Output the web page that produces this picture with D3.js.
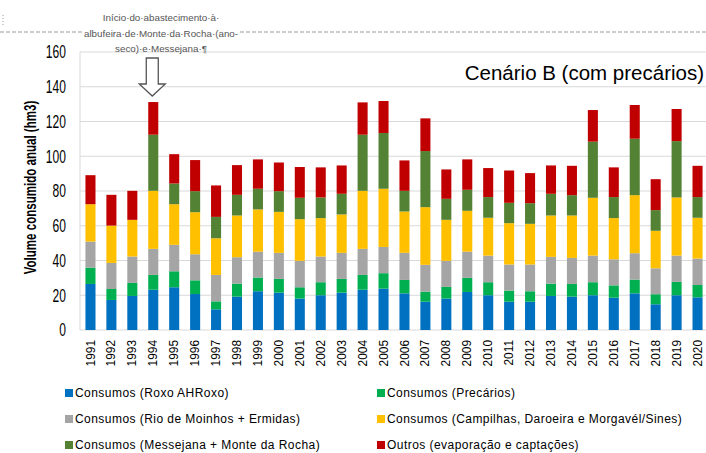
<!DOCTYPE html>
<html>
<head>
<meta charset="utf-8">
<script src="https://cdn.jsdelivr.net/npm/d3@7"></script>
<style>
  body { margin: 0; background: #fff; }
  svg { display: block; font-family: "Liberation Sans", Arial, sans-serif; }
</style>
</head>
<body>
<svg id="chart"></svg>
<script>
var width = 706;
var height = 453;

// anos (categorias)
var years = ['1991','1992','1993','1994','1995','1996','1997','1998','1999','2000',
             '2001','2002','2003','2004','2005','2006','2007','2008','2009','2010',
             '2011','2012','2013','2014','2015','2016','2017','2018','2019','2020'];

// volumes por origem (hm3)
var roxo       = [26.5,17.3,19.6,23.2,24.6,20.7,11.9,19.2,22.3,21.5,18.1,20.0,21.5,23.2,23.8,21.1,16.3,18.1,21.9,20.0,16.3,16.3,19.6,19.2,20.0,18.6,21.1,14.8,20.0,18.8];
var precarios  = [9.4,6.3,7.5,8.5,9.2,7.9,4.6,7.5,7.9,7.9,6.5,7.5,7.9,8.5,8.9,7.7,5.8,6.7,8.1,7.5,6.4,6.0,7.1,7.3,7.5,7.1,7.9,5.8,7.7,7.1];
var rioMoinhos = [15.0,15.0,15.2,15.0,15.2,15.0,15.2,15.2,14.9,15.0,15.2,14.8,15.0,15.0,15.1,15.6,15.4,15.0,15.1,15.3,15.0,15.4,15.4,15.0,15.3,15.0,15.2,14.9,15.1,15.2];
var campilhas  = [21.5,21.5,21.1,33.4,23.4,24.2,21.1,24.0,24.3,23.6,24.0,22.1,22.1,33.4,33.5,23.8,33.2,23.6,23.5,21.8,23.8,23.4,23.8,24.4,33.3,23.7,33.4,21.6,33.5,23.5];
var messejana  = [0,0,0,32.3,11.9,12.1,12.3,11.9,11.9,11.9,12.3,11.9,11.9,32.3,32.1,11.9,32.3,12.1,12.1,11.9,11.7,11.9,12.5,11.7,32.3,12.1,32.5,11.9,32.4,11.9];
var outros     = [16.7,17.7,16.7,18.8,16.9,17.9,18.1,17.1,16.9,16.5,17.7,17.3,16.3,18.6,18.4,17.5,18.8,16.9,17.5,16.7,18.6,17.3,16.3,16.9,18.2,17.1,19.4,17.8,18.5,18.0];

var seriesKeys = ['roxo','precarios','rioMoinhos','campilhas','messejana','outros'];
var seriesNames = ['Consumos (Roxo AHRoxo)', 'Consumos (Precários)',
                   'Consumos (Rio de Moinhos + Ermidas)', 'Consumos (Campilhas, Daroeira e Morgavél/Sines)',
                   'Consumos (Messejana + Monte da Rocha)', 'Outros (evaporação e captações)'];
var colors = ['#0070C0','#00B050','#A5A5A5','#FFC000','#548235','#C00000'];
var yTicks = [0,20,40,60,80,100,120,140,160];

var table = years.map(function(y, i) {
  return { year: y, roxo: roxo[i], precarios: precarios[i], rioMoinhos: rioMoinhos[i],
           campilhas: campilhas[i], messejana: messejana[i], outros: outros[i] };
});

var svg = d3.select('#chart').attr('width', width).attr('height', height);

var x = d3.scaleBand().domain(years).range([80, 708]).paddingInner(0.52).paddingOuter(0.26);
var y = d3.scaleLinear().domain([0, 160]).range([330, 52]);
var color = d3.scaleOrdinal().domain(seriesKeys).range(colors);

// linha tracejada do topo (margem da pagina)
svg.append('line')
  .attr('x1', 0).attr('x2', width).attr('y1', 32).attr('y2', 32)
  .attr('stroke', '#bdbdbd').attr('stroke-width', 1.3).attr('stroke-dasharray', '4,2');
svg.append('line')
  .attr('x1', 3).attr('x2', 3).attr('y1', 15).attr('y2', 26)
  .attr('stroke', '#999').attr('stroke-width', 1).attr('stroke-dasharray', '1,2');

// grelha
svg.append('g')
  .selectAll('line')
  .data(yTicks.filter(function(d) { return d > 0; }))
  .enter()
  .append('line')
  .attr('x1', 80).attr('x2', width)
  .attr('y1', function(d) { return y(d); })
  .attr('y2', function(d) { return y(d); })
  .attr('stroke', '#d9d9d9').attr('stroke-width', 1);

svg.append('line')
  .attr('x1', 80).attr('x2', 80).attr('y1', y(160)).attr('y2', y(0))
  .attr('stroke', '#d9d9d9');
svg.append('line')
  .attr('x1', 80).attr('x2', width).attr('y1', y(0)).attr('y2', y(0))
  .attr('stroke', '#d9d9d9');

// barras empilhadas
var stacked = d3.stack().keys(seriesKeys)(table);

svg.append('g')
  .selectAll('g')
  .data(stacked)
  .enter()
  .append('g')
  .attr('fill', function(d) { return color(d.key); })
  .selectAll('rect')
  .data(function(d) { return d; })
  .enter()
  .append('rect')
  .attr('x', function(d) { return x(d.data.year); })
  .attr('y', function(d) { return y(d[1]); })
  .attr('width', x.bandwidth())
  .attr('height', function(d) { return y(d[0]) - y(d[1]); });

// eixo y (letra estreita)
var yAxis = svg.append('g')
  .attr('transform', 'translate(80,0)')
  .call(d3.axisLeft(y).tickValues(yTicks).tickSize(0).tickPadding(21));
yAxis.select('.domain').remove();
yAxis.selectAll('text')
  .attr('font-size', 18).attr('fill', '#000')
  .attr('font-family', '"Liberation Sans", Arial, sans-serif')
  .attr('transform', 'scale(0.67,1)');

// eixo x
var xAxis = svg.append('g')
  .attr('transform', 'translate(0,' + y(0) + ')')
  .call(d3.axisBottom(x).tickSize(0));
xAxis.select('.domain').remove();
xAxis.selectAll('text')
  .attr('font-size', 13.5).attr('fill', '#000')
  .attr('font-family', '"Liberation Sans", Arial, sans-serif')
  .attr('text-anchor', 'end')
  .attr('dy', '0.3em')
  .attr('transform', 'translate(0,10) rotate(-90) scale(0.88,1)')
  .attr('x', 0).attr('y', 0);

// titulo do eixo y
svg.append('text')
  .attr('transform', 'translate(36,' + y(82) + ') rotate(-90) scale(0.7,1)')
  .attr('text-anchor', 'middle')
  .attr('font-size', 16.5).attr('font-weight', 'bold')
  .text('Volume consumido anual (hm3)');

// titulo
svg.append('text')
  .attr('x', 704).attr('y', 80)
  .attr('text-anchor', 'end')
  .attr('font-size', 20.5)
  .text('Cenário B (com precários)');

// anotacao
svg.append('rect')
  .attr('x', 82).attr('y', 24).attr('width', 158).attr('height', 16)
  .attr('fill', '#fff');
var note = ['Início·do·abastecimento·à·', 'albufeira·de·Monte·da·Rocha·(ano-', 'seco)·e·Messejana·¶'];
svg.append('g')
  .selectAll('text')
  .data(note)
  .enter()
  .append('text')
  .attr('x', 161)
  .attr('y', function(d, i) { return 21 + i * 15.5; })
  .attr('text-anchor', 'middle')
  .attr('font-size', 9.8).attr('fill', '#555')
  .text(function(d) { return d; });

// seta
var ax = x('1994') + x.bandwidth() / 2 - 1;
svg.append('path')
  .attr('d', 'M' + (ax - 6) + ',58 H' + (ax + 6) + ' V84 H' + (ax + 13) + ' L' + ax + ',96 L' + (ax - 13) + ',84 H' + (ax - 6) + ' Z')
  .attr('fill', '#fff').attr('stroke', '#555').attr('stroke-width', 1.3);

// legenda
var legend = svg.append('g')
  .selectAll('g')
  .data(seriesNames)
  .enter()
  .append('g')
  .attr('transform', function(d, i) {
    return 'translate(' + (i % 2 === 0 ? 65 : 377) + ',' + (393 + Math.floor(i / 2) * 26) + ')';
  });
legend.append('rect')
  .attr('x', 0).attr('y', -4).attr('width', 8).attr('height', 8)
  .attr('fill', function(d, i) { return colors[i]; });
legend.append('text')
  .attr('x', 10).attr('y', 0).attr('dy', '0.35em')
  .attr('font-size', 12).attr('letter-spacing', 0.45).attr('fill', '#000')
  .text(function(d) { return d; });
</script>
</body>
</html>
